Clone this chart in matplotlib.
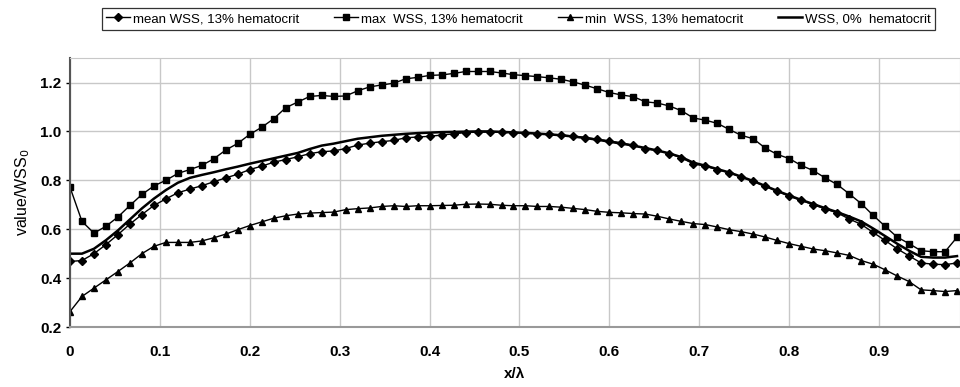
import matplotlib
matplotlib.use("Agg")
import matplotlib.pyplot as plt
import numpy as np

# ======================== DATA ========================
# 75 sample positions along one wavelength, x = i/75
n_pts = 75
x_pos = [i / 75 for i in range(n_pts)]

wss_mean = [0.468, 0.472, 0.500, 0.537, 0.578, 0.621, 0.660, 0.697, 0.724, 0.749,
            0.764, 0.778, 0.794, 0.810, 0.825, 0.844, 0.858, 0.874, 0.885, 0.896,
            0.909, 0.917, 0.920, 0.930, 0.944, 0.952, 0.958, 0.963, 0.974, 0.977,
            0.980, 0.985, 0.990, 0.995, 0.997, 0.997, 0.996, 0.995, 0.993, 0.991,
            0.988, 0.985, 0.981, 0.975, 0.968, 0.961, 0.953, 0.943, 0.929, 0.922,
            0.909, 0.892, 0.868, 0.858, 0.844, 0.831, 0.813, 0.796, 0.776, 0.755,
            0.735, 0.718, 0.701, 0.683, 0.667, 0.642, 0.620, 0.587, 0.554, 0.520,
            0.491, 0.462, 0.457, 0.455, 0.462]

wss_max = [0.772, 0.632, 0.584, 0.612, 0.650, 0.697, 0.742, 0.777, 0.800, 0.828,
           0.844, 0.861, 0.888, 0.924, 0.951, 0.988, 1.017, 1.052, 1.097, 1.120,
           1.143, 1.147, 1.143, 1.145, 1.166, 1.182, 1.190, 1.197, 1.215, 1.221,
           1.229, 1.231, 1.237, 1.245, 1.245, 1.245, 1.239, 1.232, 1.228, 1.224,
           1.219, 1.213, 1.202, 1.189, 1.174, 1.159, 1.149, 1.142, 1.121, 1.116,
           1.104, 1.085, 1.055, 1.046, 1.033, 1.008, 0.984, 0.970, 0.932, 0.906,
           0.889, 0.861, 0.840, 0.810, 0.783, 0.745, 0.705, 0.657, 0.612, 0.568,
           0.541, 0.512, 0.508, 0.508, 0.567]

wss_min = [0.263, 0.325, 0.359, 0.393, 0.427, 0.462, 0.500, 0.530, 0.546, 0.546,
           0.546, 0.552, 0.565, 0.580, 0.598, 0.615, 0.630, 0.645, 0.655, 0.662,
           0.666, 0.668, 0.670, 0.680, 0.684, 0.687, 0.693, 0.696, 0.693, 0.696,
           0.696, 0.697, 0.698, 0.702, 0.703, 0.702, 0.698, 0.696, 0.696, 0.693,
           0.693, 0.690, 0.685, 0.680, 0.673, 0.669, 0.667, 0.664, 0.662, 0.653,
           0.642, 0.632, 0.623, 0.619, 0.609, 0.598, 0.590, 0.580, 0.568, 0.554,
           0.541, 0.530, 0.519, 0.512, 0.503, 0.493, 0.472, 0.457, 0.434, 0.409,
           0.386, 0.352, 0.349, 0.345, 0.349]

wss_zero = [0.500, 0.500, 0.520, 0.555, 0.595, 0.640, 0.685, 0.725, 0.760, 0.790,
            0.810, 0.822, 0.833, 0.845, 0.856, 0.868, 0.879, 0.890, 0.901, 0.912,
            0.928, 0.942, 0.950, 0.960, 0.970, 0.976, 0.982, 0.986, 0.990, 0.993,
            0.995, 0.997, 0.998, 0.999, 1.000, 1.000, 0.998, 0.996, 0.994, 0.991,
            0.988, 0.984, 0.979, 0.973, 0.966, 0.958, 0.950, 0.942, 0.932, 0.922,
            0.910, 0.895, 0.872, 0.860, 0.846, 0.832, 0.815, 0.797, 0.777, 0.757,
            0.738, 0.720, 0.703, 0.686, 0.670, 0.652, 0.632, 0.603, 0.572, 0.541,
            0.512, 0.487, 0.484, 0.484, 0.490]

x_ticks = [0, 0.1, 0.2, 0.3, 0.4, 0.5, 0.6, 0.7, 0.8, 0.9]
x_tick_labels = ["0", "0.1", "0.2", "0.3", "0.4", "0.5", "0.6", "0.7", "0.8", "0.9"]
y_ticks = [0.2, 0.4, 0.6, 0.8, 1.0, 1.2]
y_tick_labels = ["0.2", "0.4", "0.6", "0.8", "1.0", "1.2"]

# ======================== PLOT ========================
plt.rcParams['font.family'] = ['Liberation Sans Narrow', 'Liberation Sans', 'DejaVu Sans']

fig = plt.figure(figsize=(9.6, 3.87), dpi=100)
ax = fig.add_axes([0.0729, 0.155, 0.9271, 0.695])

ax.plot(x_pos, wss_mean, '-D', color='black', lw=1.0, ms=4.0,
        label='mean WSS, 13% hematocrit')
ax.plot(x_pos, wss_max, '-s', color='black', lw=1.0, ms=4.6,
        label='max  WSS, 13% hematocrit')
ax.plot(x_pos, wss_min, '-^', color='black', lw=1.0, ms=4.6,
        label='min  WSS, 13% hematocrit')
ax.plot(x_pos, wss_zero, '-', color='black', lw=1.8,
        label='WSS, 0%  hematocrit')

ax.set_xlim(0, 0.99)
ax.set_ylim(0.2, 1.3)
ax.set_xticks(x_ticks)
ax.set_xticklabels(x_tick_labels, fontweight='bold', fontsize=11)
ax.set_yticks(y_ticks)
ax.set_yticklabels(y_tick_labels, fontweight='bold', fontsize=11)
ax.tick_params(axis='x', length=0, pad=13)
ax.tick_params(axis='y', length=3, width=1, direction='out', pad=3)

ax.grid(True, color='#c8c8c8', lw=1.0)
ax.set_axisbelow(True)
for side in ['top', 'right']:
    ax.spines[side].set_color('#c8c8c8')
ax.spines['left'].set_color('#555555')
ax.spines['left'].set_linewidth(1.5)
ax.spines['bottom'].set_color('#999999')
ax.spines['bottom'].set_linewidth(1.5)

ax.set_xlabel('x/λ', fontweight='bold', fontsize=11, labelpad=6)
ax.set_ylabel('value/WSS$_0$', fontsize=11.5, labelpad=6)

leg = fig.legend(loc='center', bbox_to_anchor=(0.540, 0.951), ncol=4,
                 frameon=True, fancybox=False, edgecolor='black',
                 fontsize=9.5, handlelength=1.8, handletextpad=0.2,
                 columnspacing=2.7, borderpad=0.35)
leg.get_frame().set_linewidth(0.9)

fig.savefig('out.png', dpi=100)
